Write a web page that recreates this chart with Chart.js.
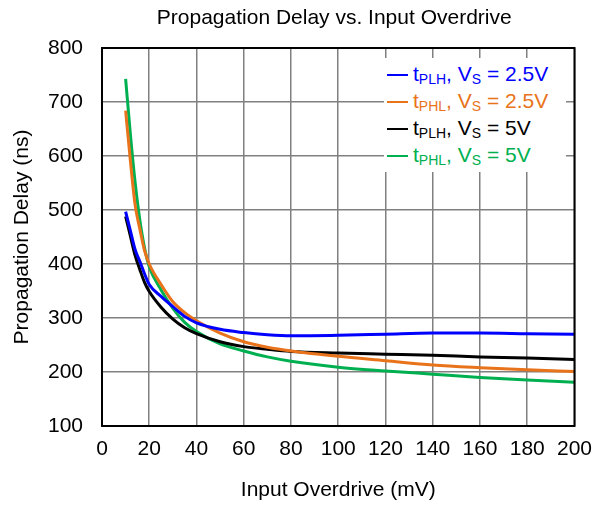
<!DOCTYPE html>
<html>
<head>
<meta charset="utf-8">
<script src="https://cdn.jsdelivr.net/npm/chart.js@4.4.1/dist/chart.umd.min.js"></script>
<style>
  body { margin: 0; background: #fff; }
  #wrap { position: relative; width: 603px; height: 507px; }
  #legend {
    position: absolute; left: 384px; top: 58px; width: 182px; padding-top: 2px; padding-bottom: 4px;
    background: #fff;
    font-family: "Liberation Sans", Arial, sans-serif; font-size: 21px; line-height: 27px;
  }
  #legend div { white-space: nowrap; }
  #legend .ln { display: inline-block; width: 21px; height: 2px; vertical-align: middle; margin-left: 3px; margin-right: 5px; }
  #legend sub { font-size: 14px; vertical-align: -3px; line-height: 0; }
</style>
</head>
<body>
<div id="wrap">
  <canvas id="delayChart" width="603" height="507"></canvas>
  <div id="legend"></div>
</div>
<script>
// Input overdrive (mV)
const overdrive = [10, 12, 14, 16, 18, 20, 25, 30, 35, 40, 50, 60, 70, 80, 100, 120, 140, 160, 180, 200];

// Propagation delay (ns)
const tplh25 = [497, 462, 427, 405, 382, 362, 340, 321, 303, 291, 279, 273, 269, 267, 268, 270, 272, 272, 271, 270];
const tphl25 = [684, 592, 510, 465, 425, 400, 362, 330, 310, 295, 272, 256, 246, 239, 229, 221, 213, 208, 204, 201];
const tplh5  = [488, 452, 416, 390, 366, 349, 320, 298, 282, 271, 256, 247, 242, 238, 235, 233, 231, 228, 226, 223];
const tphl5  = [743, 641, 552, 482, 430, 395, 352, 318, 292, 275, 252, 239, 228, 220, 209, 202, 196, 190, 185, 181];

const xTicks = [0, 20, 40, 60, 80, 100, 120, 140, 160, 180, 200];
const yTicks = [100, 200, 300, 400, 500, 600, 700, 800];

const series = [
    { sub: 'PLH', vs: '2.5V', data: tplh25, color: '#0000ff' },
    { sub: 'PHL', vs: '2.5V', data: tphl25, color: '#e8731a' },
    { sub: 'PLH', vs: '5V', data: tplh5, color: '#000000' },
    { sub: 'PHL', vs: '5V', data: tphl5, color: '#00b050' }
];

const chartTitle = 'Propagation Delay vs. Input Overdrive';
const fontFamily = '"Liberation Sans", Arial, sans-serif';

// frame round the plot area, title centred over the plot area
const framePlugin = {
    id: 'frame',
    afterDatasetsDraw(chart) {
        const { ctx, chartArea: a } = chart;
        ctx.save();
        ctx.strokeStyle = '#000';
        ctx.lineWidth = 2;
        ctx.strokeRect(a.left, a.top, a.right - a.left, a.bottom - a.top);
        ctx.fillStyle = '#000';
        ctx.font = '21px ' + fontFamily;
        ctx.textAlign = 'center';
        ctx.textBaseline = 'middle';
        ctx.fillText(chartTitle, (a.left + a.right) / 2 - 4, 18);
        ctx.restore();
    }
};

const ctx = document.getElementById('delayChart').getContext('2d');
new Chart(ctx, {
    type: 'line',
    data: {
        datasets: series.map(s => ({
            label: 't' + s.sub + ', VS = ' + s.vs,
            data: overdrive.map((x, i) => ({ x: x, y: s.data[i] })),
            borderColor: s.color,
            borderWidth: 3,
            pointRadius: 0,
            fill: false,
            cubicInterpolationMode: 'monotone'
        }))
    },
    options: {
        responsive: false,
        animation: false,
        layout: { padding: { left: 0, right: 27, top: 48, bottom: 0 } },
        plugins: {
            legend: { display: false },
            tooltip: { enabled: false },
            title: { display: false }
        },
        scales: {
            x: {
                type: 'linear',
                min: 0,
                max: 200,
                afterBuildTicks: s => { s.ticks = xTicks.map(v => ({ value: v })); },
                afterFit: s => { s.height = 81; },
                ticks: { color: '#000', padding: 11, font: { family: fontFamily, size: 21 } },
                grid: { color: '#808080', lineWidth: 1.5, drawTicks: false },
                border: { display: false },
                title: {
                    display: true,
                    text: 'Input Overdrive (mV)',
                    color: '#000',
                    font: { family: fontFamily, size: 21 },
                    padding: { top: 0, bottom: 4.4 }
                }
            },
            y: {
                min: 100,
                max: 800,
                afterBuildTicks: s => { s.ticks = yTicks.map(v => ({ value: v })); },
                afterFit: s => { s.width = 102; },
                ticks: { color: '#000', padding: 19, font: { family: fontFamily, size: 21 } },
                grid: { color: '#808080', lineWidth: 1.5, drawTicks: false },
                border: { display: false },
                title: {
                    display: true,
                    text: 'Propagation Delay (ns)',
                    color: '#000',
                    font: { family: fontFamily, size: 21 },
                    padding: { top: 10, bottom: 0 }
                }
            }
        }
    },
    plugins: [framePlugin]
});

// legend with subscripts, as html text
const legend = document.getElementById('legend');
series.forEach(s => {
    const row = document.createElement('div');
    row.style.color = s.color;
    row.innerHTML = '<span class="ln" style="background:' + s.color + '"></span>t<sub>' + s.sub +
        '</sub>, V<sub>S</sub> = ' + s.vs;
    legend.appendChild(row);
});
</script>
</body>
</html>
